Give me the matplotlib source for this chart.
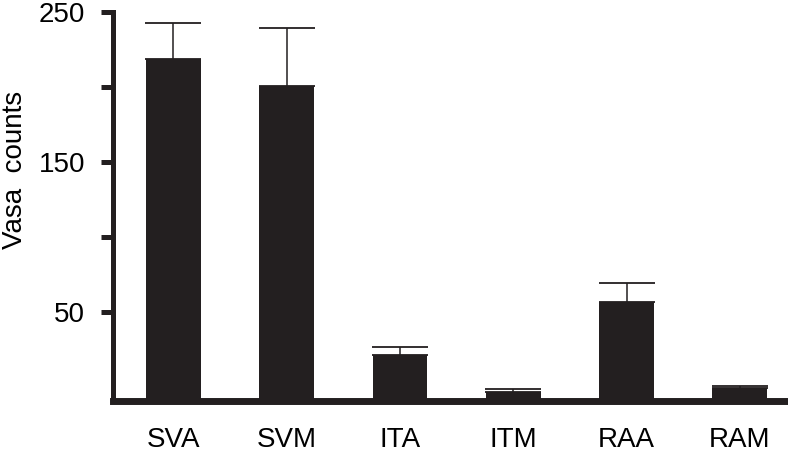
import matplotlib
matplotlib.use("Agg")
import matplotlib.pyplot as plt
import numpy as np

plt.rcParams['font.family'] = ['Liberation Sans', 'DejaVu Sans']

categories = ["SVA", "SVM", "ITA", "ITM", "RAA", "RAM"]
means = [219, 201, 21, -3.5, 56.5, -1.2]
upper = [243, 239.5, 26.5, -1.9, 69.3, 0.5]
yticks = [50, 100, 150, 200, 250]
yticklabels = ["50", "", "150", "", "250"]

W, H = 788, 455
fig = plt.figure(figsize=(W / 100, H / 100), dpi=100)
left_px, right_px, top_px, bottom_px = 113, 787, 12.5, 400.5
ax = fig.add_axes([left_px / W, 1 - bottom_px / H,
                   (right_px - left_px) / W, (bottom_px - top_px) / H])

base = -9.4
x = np.arange(len(categories))
vals = np.array(means)
errs = np.array(upper) - vals
col = '#231f20'
ax.bar(x, vals - base, bottom=base, width=0.485, color=col, zorder=2)
ax.errorbar(x, vals, yerr=[np.zeros_like(errs), errs], fmt='none',
            ecolor=col, elinewidth=1.1, capsize=20, capthick=1.3, zorder=1)

ax.set_xlim(-0.533, 5.416)
ax.set_ylim(base, 250)
ax.set_yticks(yticks)
ax.set_yticklabels(yticklabels)
ax.set_xticks(x)
ax.set_xticklabels(categories)

for s in ['top', 'right']:
    ax.spines[s].set_visible(False)
ax.spines['left'].set_linewidth(3.6)
ax.spines['bottom'].set_linewidth(5)
ax.spines['left'].set_color(col)
ax.spines['bottom'].set_color(col)

ax.tick_params(axis='y', direction='out', length=9, width=3.6, color=col,
               labelsize=20, pad=11, labelcolor='black')
ax.tick_params(axis='x', length=0, labelsize=20, pad=19, labelcolor='black')

ax.set_ylabel("Vasa  counts", fontsize=20)
ax.yaxis.set_label_coords(-0.126, 0.595)

fig.savefig("out.png", dpi=100)
